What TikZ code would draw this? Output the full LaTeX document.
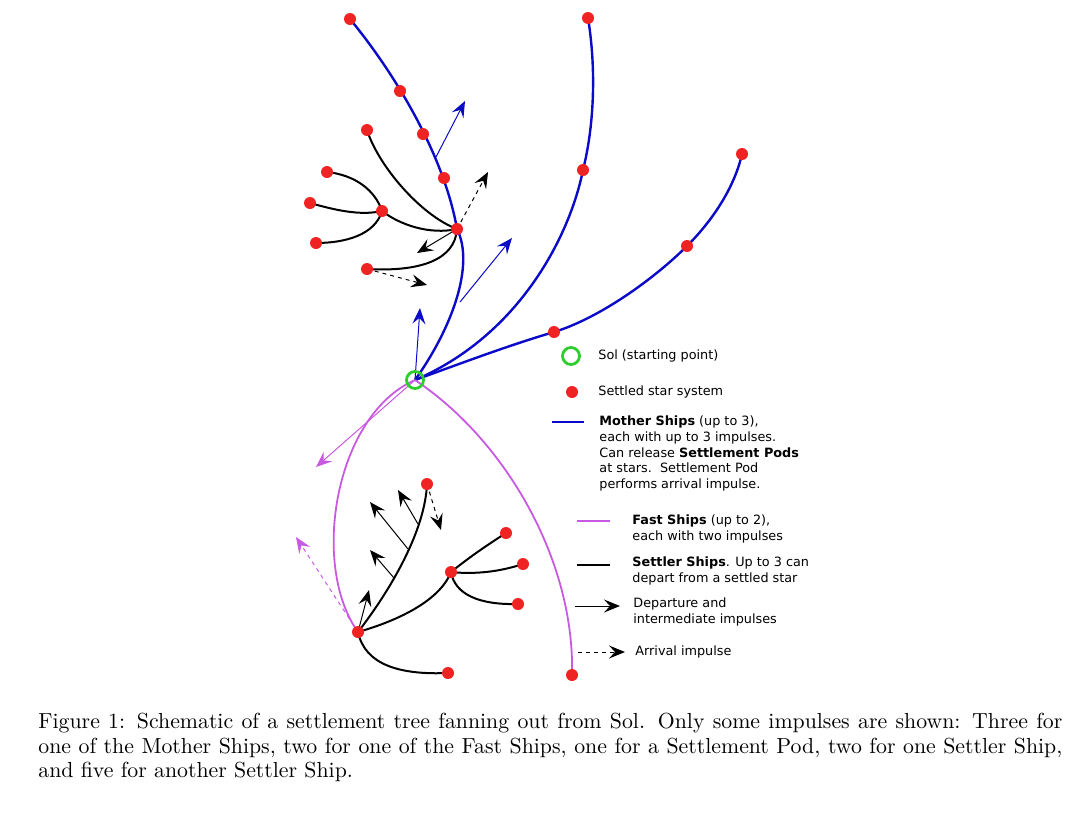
\documentclass[tikz,border=0pt]{standalone}
\usepackage{fontspec}
\newfontfamily\legendfont{DejaVu Sans}
\usetikzlibrary{arrows.meta,backgrounds}
\definecolor{shipblue}{RGB}{10,10,200}
\definecolor{fastpink}{RGB}{200,90,225}
\definecolor{starred}{RGB}{240,35,35}
\definecolor{solgreen}{RGB}{45,205,45}
\tikzset{
  settled/.style={circle, fill=starred, inner sep=0pt, minimum size=6pt},
  solnode/.style={circle, draw=solgreen, line width=1.4pt, inner sep=0pt, minimum size=8.5pt},
  mother/.style={shipblue, line width=1.2pt},
  fast/.style={fastpink, line width=0.9pt},
  settler/.style={black, line width=1pt},
  impulse/.style={-{Stealth[length=8pt,width=6.5pt,inset=3pt]}, line width=0.5pt},
  arrival/.style={impulse, dash pattern=on 2pt off 2pt},
  legend/.style={font=\legendfont\fontsize{6.4}{7.85}\selectfont, anchor=west, inner sep=0pt, align=left}
}
\begin{document}
\begin{tikzpicture}[x=0.5pt,y=-0.5pt]
\useasboundingbox (0,0) rectangle (1080,815);
\node[solnode] (sol) at (415,380) {};
\node[settled] (m1a) at (350,19) {};
\node[settled] (m1b) at (400,91) {};
\node[settled] (m1c) at (423,134) {};
\node[settled] (m1d) at (444,178) {};
\node[settled] (hub1) at (457,229) {};
\node[settled] (m2a) at (583,170) {};
\node[settled] (m2b) at (588,18) {};
\node[settled] (m3a) at (554,332) {};
\node[settled] (m3b) at (687,246) {};
\node[settled] (m3c) at (742,154) {};
\node[settled] (u1) at (367,130) {};
\node[settled] (hub2) at (382,211) {};
\node[settled] (u2) at (327,172) {};
\node[settled] (u3) at (310,203) {};
\node[settled] (u4) at (316,243) {};
\node[settled] (u5) at (367,269) {};
\node[settled] (hub3) at (358,632) {};
\node[settled] (f1) at (572,675) {};
\node[settled] (l1) at (427,484) {};
\node[settled] (hub4) at (451,572) {};
\node[settled] (l2) at (448,673) {};
\node[settled] (l3) at (506,533) {};
\node[settled] (l4) at (523,564) {};
\node[settled] (l5) at (518,604) {};
\coordinate (b1) at (420,308);
\coordinate (b2s) at (460,302);
\coordinate (b2) at (512,238);
\coordinate (b3s) at (436,157);
\coordinate (b3) at (465,101);
\coordinate (k1) at (417,253);
\coordinate (k2) at (488,172);
\coordinate (k3) at (427,285);
\coordinate (p1) at (316,467);
\coordinate (p2) at (296,537);
\coordinate (q1) at (369,590);
\coordinate (q2s) at (394,578);
\coordinate (q2) at (370,550);
\coordinate (q3s) at (408,549);
\coordinate (q3) at (370,502);
\coordinate (q4s) at (418,524);
\coordinate (q4) at (398,490);
\coordinate (q5) at (441,530);
\begin{scope}[on background layer]
% mother ships
\draw[mother] (sol.center) .. controls (452,328) and (475,265) .. (hub1.center) .. controls (445,160) and (400,80) .. (m1a.center);
\draw[mother] (sol.center) .. controls (520,335) and (570,235) .. (m2a.center) .. controls (596,118) and (595,60) .. (m2b.center);
\draw[mother] (sol.center) .. controls (470,360) and (510,345) .. (m3a.center) .. controls (600,318) and (655,278) .. (m3b.center) .. controls (715,218) and (735,185) .. (m3c.center);
\draw[impulse, shipblue] (sol.center) -- (b1);
\draw[impulse, shipblue] (b2s) -- (b2);
\draw[impulse, shipblue] (b3s) -- (b3);
% settler ships, upper tree
\draw[settler] (hub1.center) .. controls (420,215) and (378,165) .. (u1.center);
\draw[settler] (hub1.center) .. controls (430,235) and (400,225) .. (hub2.center);
\draw[settler] (hub1.center) .. controls (455,260) and (420,272) .. (u5.center);
\draw[settler] (hub2.center) .. controls (375,190) and (355,175) .. (u2.center);
\draw[settler] (hub2.center) .. controls (360,216) and (335,210) .. (u3.center);
\draw[settler] (hub2.center) .. controls (375,235) and (345,243) .. (u4.center);
\draw[impulse] (hub1.center) -- (k1);
\draw[arrival] (hub1.center) -- (k2);
\draw[arrival] (u5.center) -- (k3);
% fast ships
\draw[fast] (sol.center) .. controls (505,440) and (575,560) .. (f1.center);
\draw[fast] (sol.center) .. controls (335,415) and (310,565) .. (hub3.center);
\draw[impulse, fastpink] (sol.center) -- (p1);
\draw[arrival, fastpink] (hub3.center) -- (p2);
% settler ships, lower tree
\draw[settler] (hub3.center) .. controls (392,588) and (425,530) .. (l1.center);
\draw[settler] (hub3.center) .. controls (400,620) and (440,600) .. (hub4.center);
\draw[settler] (hub3.center) .. controls (365,665) and (400,675) .. (l2.center);
\draw[settler] (hub4.center) .. controls (472,555) and (492,542) .. (l3.center);
\draw[settler] (hub4.center) .. controls (480,575) and (505,570) .. (l4.center);
\draw[settler] (hub4.center) .. controls (455,595) and (480,605) .. (l5.center);
\draw[impulse] (hub3.center) -- (q1);
\draw[impulse] (q2s) -- (q2);
\draw[impulse] (q3s) -- (q3);
\draw[impulse] (q4s) -- (q4);
\draw[arrival] (l1.center) -- (q5);
\end{scope}
% legend
\node[solnode] (kso) at (571,356) {};
\node[legend] (tso) at (598,356) {Sol (starting point)};
\node[settled] (kst) at (572,392) {};
\node[legend] (tst) at (598,392) {Settled star system};
\node[legend] (tmo) at (599,453.5) {\textbf{Mother Ships} (up to 3),\\each with up to 3 impulses.\\Can release \textbf{Settlement Pods}\\at stars.\ \ Settlement Pod\\performs arrival impulse.};
\draw[mother] (552,422) -- (584,422);
\node[legend] (tfa) at (632,529) {\textbf{Fast Ships} (up to 2),\\each with two impulses};
\draw[fast] (577,521) -- (610,521);
\node[legend] (tse) at (632,571) {\textbf{Settler Ships}. Up to 3 can\\depart from a settled star};
\draw[settler] (577,565) -- (610,565);
\node[legend] (tim) at (633,612) {Departure and\\intermediate impulses};
\draw[impulse] (575,606) -- (620,606);
\node[legend] (tar) at (635,652) {Arrival impulse};
\draw[arrival] (578,652) -- (625,652);
% caption
\node[anchor=north west, text width=512pt, align=justify, inner sep=0pt, font=\fontsize{10.9}{12.25}\selectfont] (cap) at (38,713) {Figure 1: Schematic of a settlement tree fanning out from Sol. Only some impulses are shown: Three for\linebreak one of the Mother Ships, two for one of the Fast Ships, one for a Settlement Pod, two for one Settler Ship,\linebreak and five for another Settler Ship.};
\end{tikzpicture}
\end{document}
